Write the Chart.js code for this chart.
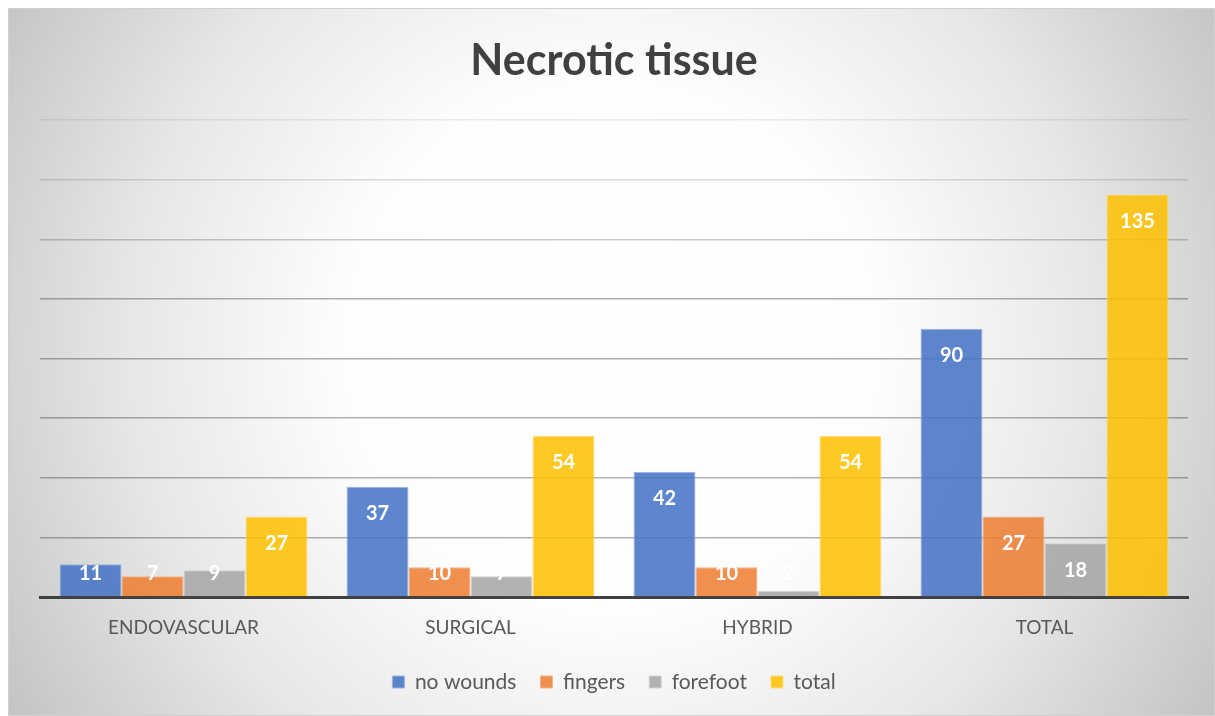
<!DOCTYPE html>
<html>
<head>
<meta charset="utf-8">
<title>Necrotic tissue</title>
<script src="https://cdn.jsdelivr.net/npm/chart.js@4.4.1/dist/chart.umd.min.js"></script>
<style>
  html, body { margin: 0; padding: 0; background: #ffffff; }
  #wrap { position: relative; width: 1215px; height: 716px; }
  canvas { display: block; }
</style>
</head>
<body>
<div id="wrap"><canvas id="chart" width="1215" height="716"></canvas></div>
<script>
// Category groups and series values
const categories = ['ENDOVASCULAR', 'SURGICAL', 'HYBRID', 'TOTAL'];
const noWounds = [11, 37, 42, 90];
const fingers  = [7, 10, 10, 27];
const forefoot = [9, 7, 2, 18];
const total    = [27, 54, 54, 135];
const seriesNames = ['no wounds', 'fingers', 'forefoot', 'total'];

const fills   = ['rgba(68,114,196,0.86)', 'rgba(237,125,49,0.86)', 'rgba(165,165,165,0.86)', 'rgba(255,192,0,0.86)'];
const borders = ['#9db4e0', '#f4b48a', '#d2d2d2', '#ffdc7a'];

// Radial grey-to-white backdrop behind the whole chart
const backdrop = {
  id: 'backdrop',
  beforeDraw(chart) {
    const ctx = chart.ctx;
    const x0 = 8, y0 = 8, x1 = chart.width, y1 = chart.height;
    const cx = (x0 + x1) / 2, cy = (y0 + y1) / 2 - 15;
    ctx.save();
    ctx.fillStyle = '#ffffff';
    ctx.fillRect(0, 0, chart.width, chart.height);
    const g = ctx.createRadialGradient(cx, cy, 0, cx, cy, 710);
    g.addColorStop(0, '#ffffff');
    g.addColorStop(0.38, '#fdfdfd');
    g.addColorStop(0.68, '#e7e7e7');
    g.addColorStop(1, '#c3c3c3');
    ctx.fillStyle = g;
    ctx.fillRect(x0, y0, x1 - x0, y1 - y0);
    ctx.strokeStyle = '#d0d0d0';
    ctx.lineWidth = 1;
    ctx.strokeRect(x0 + 0.5, y0 + 0.5, x1 - x0 - 1, y1 - y0 - 1);
    ctx.restore();
  }
};

// White value labels near the top of each bar
const valueLabels = {
  id: 'valueLabels',
  afterDatasetsDraw(chart) {
    const ctx = chart.ctx;
    const base = chart.scales.y.getPixelForValue(0);
    ctx.save();
    ctx.font = 'bold 20px Lato, "Open Sans", sans-serif';
    ctx.fillStyle = '#ffffff';
    ctx.textAlign = 'center';
    ctx.textBaseline = 'middle';
    chart.data.datasets.forEach((ds, i) => {
      chart.getDatasetMeta(i).data.forEach((bar, j) => {
        const y = Math.min(bar.y + 27, base - 23);
        ctx.fillText(String(ds.data[j]), bar.x, y);
      });
    });
    ctx.restore();
  }
};

const gridAlpha = v => (v >= 160 ? 0.07 : v >= 140 ? 0.13 : v >= 120 ? 0.2 : 0.3);

new Chart(document.getElementById('chart'), {
  type: 'bar',
  data: {
    labels: categories,
    datasets: [noWounds, fingers, forefoot, total].map((d, i) => ({
      label: seriesNames[i],
      data: d,
      backgroundColor: fills[i],
      borderColor: borders[i],
      borderWidth: 1,
      barPercentage: 1,
      categoryPercentage: 0.864
    }))
  },
  options: {
    responsive: false,
    animation: false,
    layout: { padding: { left: 40, right: 27, top: 8, bottom: 13.5 } },
    plugins: {
      title: {
        display: true,
        text: 'Necrotic tissue',
        color: '#404040',
        font: { family: 'Lato, "Open Sans", sans-serif', size: 43, weight: 'bold', lineHeight: 1.2 },
        padding: { top: 27, bottom: 33.5 }
      },
      legend: {
        position: 'bottom',
        labels: {
          color: '#595959',
          font: { family: 'Lato, "Open Sans", sans-serif', size: 21 },
          boxWidth: 12,
          boxHeight: 12,
          padding: 24,
          generateLabels(chart) {
            return chart.data.datasets.map((ds, i) => ({
              text: ds.label,
              fillStyle: fills[i],
              strokeStyle: borders[i],
              lineWidth: 1,
              fontColor: '#595959',
              datasetIndex: i,
              hidden: false
            }));
          }
        }
      },
      tooltip: { enabled: false }
    },
    scales: {
      x: {
        grid: { display: false, drawTicks: false },
        border: { display: true, color: '#404040', width: 3 },
        ticks: {
          color: '#595959',
          padding: 19.6,
          font: { family: 'Lato, "Open Sans", sans-serif', size: 19 }
        },
        afterFit(scale) { scale.height = 50.5; }
      },
      y: {
        min: 0,
        max: 160,
        ticks: { display: false, stepSize: 20 },
        border: { display: false },
        grid: {
          drawTicks: false,
          lineWidth: 1.5,
          color: c => (c.tick && c.tick.value === 0) ? 'rgba(0,0,0,0)' : 'rgba(0,0,0,' + gridAlpha(c.tick ? c.tick.value : 0) + ')'
        }
      }
    }
  },
  plugins: [backdrop, valueLabels]
});
</script>
</body>
</html>
